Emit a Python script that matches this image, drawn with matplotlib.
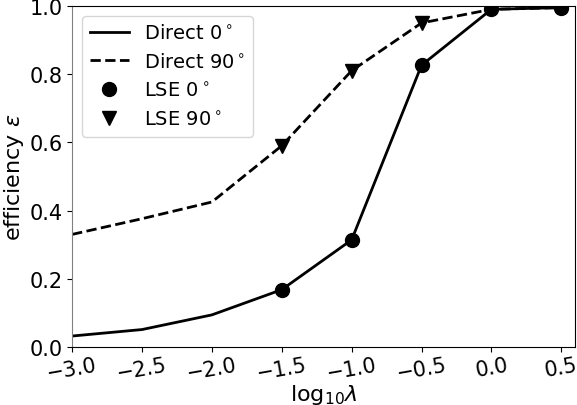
import matplotlib
matplotlib.use("Agg")
import matplotlib.pyplot as plt

log_lambda = [-3.0, -2.5, -2.0, -1.5, -1.0, -0.5, 0.0, 0.5]
direct_0 = [0.032, 0.051, 0.094, 0.168, 0.314, 0.826, 0.99, 0.995]
direct_90 = [0.33, 0.376, 0.425, 0.59, 0.81, 0.95, 0.99, 0.995]
lse_x = [-1.5, -1.0, -0.5, 0.0, 0.5]
lse_0 = [0.168, 0.314, 0.826, 0.99, 0.995]
lse_90 = [0.59, 0.81, 0.95, 0.99, 0.995]
xticks = [-3.0, -2.5, -2.0, -1.5, -1.0, -0.5, 0.0, 0.5]
yticks = [0.0, 0.2, 0.4, 0.6, 0.8, 1.0]

fig = plt.figure(figsize=(5.77, 4.06), dpi=100)
ax = fig.add_axes([0.125, 0.143, 0.872, 0.84])

ax.plot(log_lambda, direct_0, 'k-', lw=2, label='Direct 0$^\\circ$')
ax.plot(log_lambda, direct_90, 'k--', lw=2, label='Direct 90$^\\circ$')
ax.plot(lse_x, lse_0, 'ko', ms=10, label='LSE 0$^\\circ$', zorder=4)
ax.plot(lse_x, lse_90, 'kv', ms=10, label='LSE 90$^\\circ$', zorder=3)

ax.set_xlim(-3.0, 0.6)
ax.set_ylim(0.0, 1.0)
ax.set_xticks(xticks)
ax.set_yticks(yticks)
ax.set_xticklabels([f"{t:.1f}".replace('-', '\u2212') for t in xticks], rotation=10, fontsize=15)
ax.set_yticklabels([f"{t:.1f}" for t in yticks], fontsize=15)
ax.tick_params(axis='x', pad=2)
ax.spines['left'].set_color('gray')
ax.set_xlabel('log$_{10}\\lambda$', fontsize=16, labelpad=-1)
ax.set_ylabel('efficiency $\\epsilon$', fontsize=16, labelpad=2)
ax.legend(loc='upper left', fontsize=14)

fig.savefig('out.png', dpi=100)
